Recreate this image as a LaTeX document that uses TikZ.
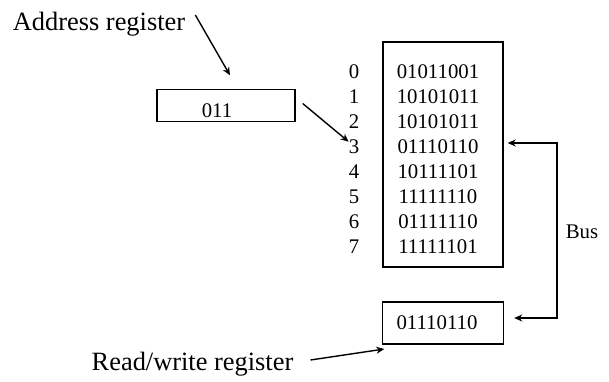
\documentclass[tikz,border=0pt]{standalone}
\usepackage{fontspec}
\setmainfont{Liberation Serif}
\usetikzlibrary{arrows.meta}

\tikzset{
    regbox/.style={draw, line width=1.4pt, inner sep=0pt},
    bigtext/.style={inner sep=0pt, font=\fontsize{26.4}{30}\selectfont},
    memtext/.style={inner sep=0pt, font=\fontsize{20.8}{24}\selectfont},
    arr/.style={line width=1.4pt, -{Stealth[length=8pt,width=7pt,inset=2.5pt]}},
    biarr/.style={line width=1.4pt, {Stealth[length=8pt,width=7pt,inset=2.5pt]}-{Stealth[length=8pt,width=7pt,inset=2.5pt]}}
}

\begin{document}
\begin{tikzpicture}[x=1pt, y=-1pt]  % one unit is one pixel, y runs downwards
    \useasboundingbox (0,0) rectangle (609,381);

    % Memory with its addresses and contents
    \node[regbox, minimum width=120pt, minimum height=225pt] (mem) at (443,154.5) {};
    \foreach \i/\v in {0/01011001, 1/10101011, 2/10101011, 3/01110110,
                       4/10111101, 5/11111110, 6/01111110, 7/11111101} {
        \node[memtext] (i\i) at (354,71.7+25*\i) {\i};
        \node[memtext] (r\i) at (438,71.7+25*\i) {\v};
    }

    % Address register
    \node[bigtext] (addrlbl) at (99,24) {Address register};
    \node[regbox, minimum width=138pt, minimum height=32pt] (addr) at (226,105.5) {};
    \node[memtext] (addrval) at (217,111) {011};

    % Read/write register
    \node[bigtext] (rwlbl) at (192.5,364) {Read/write register};
    \node[regbox, minimum width=121pt, minimum height=42pt] (rw) at (443,323) {};
    \node[memtext] (rwval) at (437,323) {01110110};

    % Bus
    \node[memtext] (buslbl) at (582,232) {Bus};
    \coordinate (busturn) at (557,143);

    % Arrows
    \draw[arr] ([xshift=10pt,yshift=9pt]addrlbl.east) -- ([xshift=4pt,yshift=13.5pt]addr.north);
    \draw[arr] ([xshift=7pt,yshift=2pt]addr.east) -- ([yshift=5pt]i3.west);
    \draw[arr] ([xshift=17pt,yshift=4pt]rwlbl.east) -- ([xshift=2.5pt,yshift=-4.3pt]rw.south west);
    \draw[biarr] ([xshift=4pt]mem.east |- busturn) -- (busturn) |- ([xshift=10pt,yshift=5pt]rw.east);

\end{tikzpicture}
\end{document}
